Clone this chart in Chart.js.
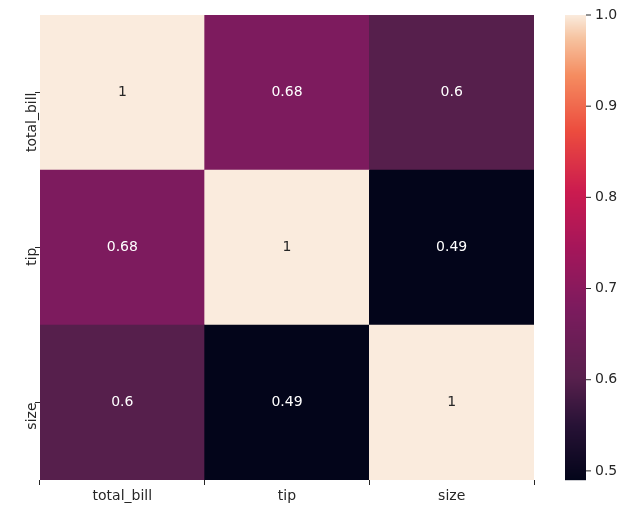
<!DOCTYPE html>
<html>
<head>
<meta charset="utf-8">
<script src="https://cdn.jsdelivr.net/npm/chart.js@4.4.0/dist/chart.umd.min.js"></script>
<style>
html, body { margin: 0; padding: 0; background: #fff; }
#wrap { width: 642px; height: 511px; }
</style>
</head>
<body>
<div id="wrap"><canvas id="heat"></canvas></div>
<script>
// --- data ---
const labels = ['total_bill', 'tip', 'size'];
const rowTotalBill = [1, 0.68, 0.6];
const rowTip = [0.68, 1, 0.49];
const rowSize = [0.6, 0.49, 1];
const cbTicks = [0.5, 0.6, 0.7, 0.8, 0.9, 1.0];
const vmin = 0.49, vmax = 1.0;

// rocket-like colormap stops
const stops = [[0,3,5,26],[0.12,40,18,54],[0.22,88,32,77],[0.37,124,27,94],[0.5,165,22,90],
  [0.62,203,27,79],[0.75,236,76,62],[0.87,245,140,96],[0.95,246,195,160],[1,250,235,221]];
function cmap(v) {
    let t = Math.min(1, Math.max(0, (v - vmin) / (vmax - vmin)));
    for (let i = 1; i < stops.length; i++) {
        if (t <= stops[i][0]) {
            const a = stops[i-1], b = stops[i];
            const f = (t - a[0]) / (b[0] - a[0]);
            const c = [1,2,3].map(k => Math.round(a[k] + (b[k]-a[k]) * f));
            return `rgb(${c[0]},${c[1]},${c[2]})`;
        }
    }
    return 'rgb(250,235,221)';
}

// rows stacked bottom-up: size, tip, total_bill
const rows = [rowSize, rowTip, rowTotalBill];
const datasets = rows.map(r => ({
    data: r.map(() => 1),
    vals: r,
    backgroundColor: r.map(cmap),
    borderWidth: 0,
    barPercentage: 1,
    categoryPercentage: 1
}));

const annotate = {
    id: 'annotate',
    afterDatasetsDraw(chart) {
        const ctx = chart.ctx;
        ctx.save();
        ctx.font = '14px "DejaVu Sans"';
        ctx.textAlign = 'center';
        ctx.textBaseline = 'middle';
        chart.data.datasets.forEach((ds, di) => {
            chart.getDatasetMeta(di).data.forEach((bar, i) => {
                const v = ds.vals[i];
                ctx.fillStyle = v > 0.85 ? '#262626' : '#ffffff';
                ctx.fillText(String(v), bar.x, (bar.y + bar.base) / 2);
            });
        });
        ctx.restore();
    }
};

const colorbar = {
    id: 'colorbar',
    afterDraw(chart) {
        const ctx = chart.ctx, a = chart.chartArea;
        const x0 = 565, w = 21, top = a.top, bot = a.bottom;
        for (let y = top; y < bot; y++) {
            const v = vmax - (y - top + 0.5) / (bot - top) * (vmax - vmin);
            ctx.fillStyle = cmap(v);
            ctx.fillRect(x0, y, w, 1.2);
        }
        ctx.save();
        ctx.font = '14px "DejaVu Sans"';
        ctx.fillStyle = '#262626';
        ctx.strokeStyle = '#262626';
        ctx.textBaseline = 'middle';
        cbTicks.forEach(t => {
            const y = bot - (t - vmin) / (vmax - vmin) * (bot - top);
            ctx.beginPath();
            ctx.moveTo(x0 + w, y); ctx.lineTo(x0 + w + 5, y); ctx.stroke();
            ctx.fillText(t.toFixed(1), x0 + w + 9, y);
        });
        ctx.restore();
    }
};

new Chart(document.getElementById('heat'), {
    type: 'bar',
    data: { labels: labels, datasets: datasets },
    plugins: [annotate, colorbar],
    options: {
        responsive: true,
        maintainAspectRatio: false,
        animation: false,
        layout: { padding: { top: 15, right: 108, left: 0, bottom: 0 } },
        plugins: { legend: { display: false }, tooltip: { enabled: false } },
        scales: {
            x: {
                stacked: true,
                afterFit(s) { s.height = 31; },
                border: { display: false },
                grid: { drawOnChartArea: false, tickLength: 5, color: '#262626' },
                ticks: { color: '#262626', font: { family: 'DejaVu Sans', size: 14 }, padding: 3, maxRotation: 0 }
            },
            y: {
                stacked: true,
                min: 0, max: 3,
                afterFit(s) { s.width = 40; },
                afterBuildTicks(s) { s.ticks = [{ value: 0.5 }, { value: 1.5 }, { value: 2.5 }]; },
                border: { display: false },
                grid: { drawOnChartArea: false, tickLength: 5, color: '#262626' },
                ticks: {
                    color: '#262626', font: { family: 'DejaVu Sans', size: 14 }, padding: 3,
                    minRotation: 90, maxRotation: 90,
                    callback: v => ({ 0.5: 'size', 1.5: 'tip', 2.5: 'total_bill' })[v]
                }
            }
        }
    }
});
</script>
</body>
</html>
